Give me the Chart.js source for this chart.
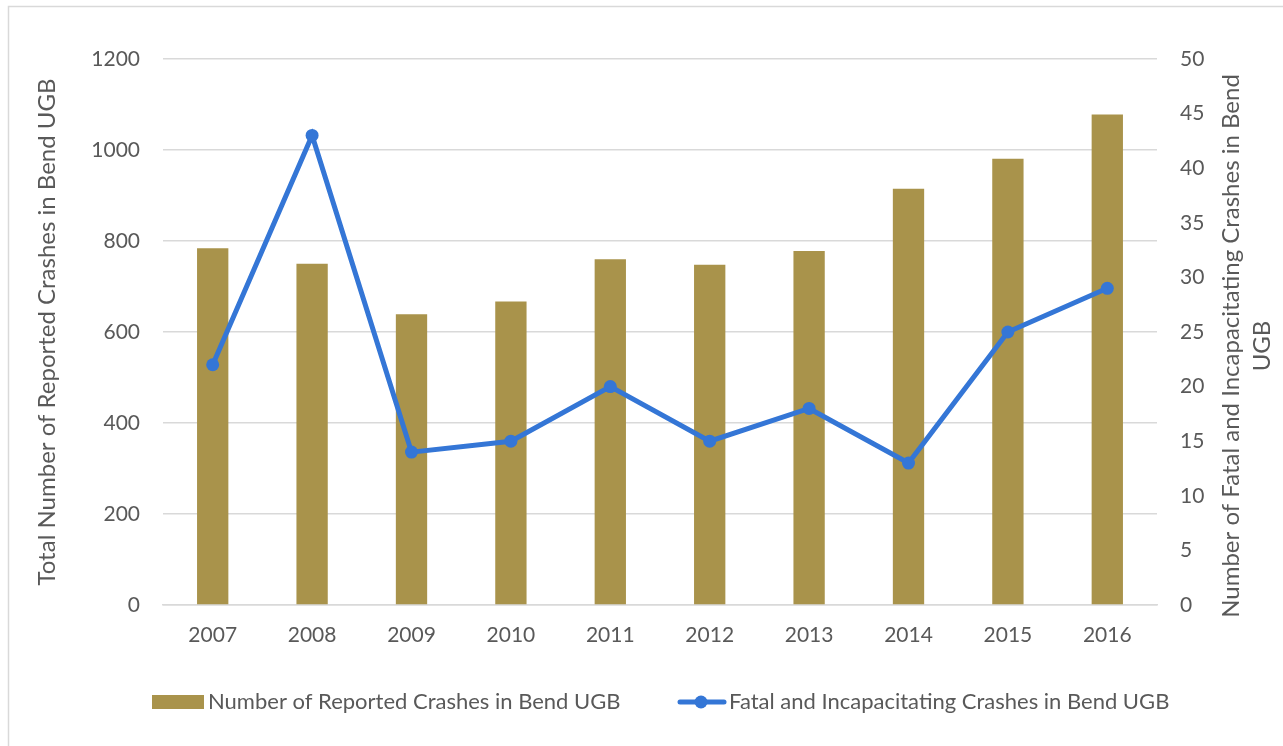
<!DOCTYPE html>
<html>
<head>
<meta charset="utf-8">
<script src="https://cdn.jsdelivr.net/npm/chart.js@4.4.1/dist/chart.umd.min.js"></script>
<style>
  html, body { margin: 0; padding: 0; background: #fff; }
  #wrap { width: 1283px; height: 746px; position: relative; }
</style>
</head>
<body>
<div id="wrap"><canvas id="crashChart" width="1283" height="746"></canvas></div>
<script>
const years = ['2007', '2008', '2009', '2010', '2011', '2012', '2013', '2014', '2015', '2016'];
const reportedCrashes = [784, 750, 639, 667, 760, 748, 778, 915, 981, 1078];
const fatalCrashes = [22, 43, 14, 15, 20, 15, 18, 13, 25, 29];
const leftTicks = [0, 200, 400, 600, 800, 1000, 1200];
const rightTicks = [0, 5, 10, 15, 20, 25, 30, 35, 40, 45, 50];

const barLabel = 'Number of Reported Crashes in Bend UGB';
const lineLabel = 'Fatal and Incapacitating Crashes in Bend UGB';
const leftTitle = 'Total Number of Reported Crashes in Bend UGB';
const rightTitle = ['Number of Fatal and Incapacitating Crashes in Bend', 'UGB'];

const gold = '#A9934B';
const blue = '#3476D6';
const textGray = '#595959';
const gridGray = '#D9D9D9';
const FONT = 'Lato, "Open Sans", sans-serif';

// border, right axis title and the legend
const extras = {
    id: 'extras',
    beforeDraw(chart) {
        const c = chart.ctx;
        c.save();
        c.strokeStyle = gridGray;
        c.lineWidth = 1.5;
        c.strokeRect(8.5, 6.5, 1300, 800);
        c.restore();
    },
    afterDraw(chart) {
        const c = chart.ctx;
        const area = chart.chartArea;
        const barDs = chart.data.datasets.find(d => d.type === 'bar');
        const lineDs = chart.data.datasets.find(d => d.type === 'line');
        c.save();
        c.fillStyle = textGray;
        c.font = '24px ' + FONT;
        c.textAlign = 'center';
        c.textBaseline = 'middle';
        const midY = (area.top + area.bottom) / 2 + 14;
        [1231, 1262].forEach((x, i) => {
            c.save();
            c.translate(x, midY);
            c.rotate(-Math.PI / 2);
            c.fillText(rightTitle[i], 0, 0);
            c.restore();
        });

        // legend
        const ly = 702;
        c.font = '22px ' + FONT;
        c.textAlign = 'left';
        c.fillStyle = barDs.backgroundColor;
        c.fillRect(152, ly - 7, 52, 14);
        c.fillStyle = textGray;
        c.fillText(barDs.label, 208, ly);

        c.strokeStyle = lineDs.borderColor;
        c.lineWidth = 5;
        c.lineCap = 'round';
        c.beginPath();
        c.moveTo(680, ly);
        c.lineTo(724, ly);
        c.stroke();
        c.fillStyle = lineDs.borderColor;
        c.beginPath();
        c.arc(701, ly, 6.5, 0, Math.PI * 2);
        c.fill();
        c.fillStyle = textGray;
        c.fillText(lineDs.label, 729, ly);
        c.restore();
    }
};

const ctx = document.getElementById('crashChart').getContext('2d');
new Chart(ctx, {
    data: {
        labels: years,
        datasets: [
            {
                type: 'line',
                label: lineLabel,
                data: fatalCrashes,
                yAxisID: 'y2',
                borderColor: blue,
                backgroundColor: blue,
                borderWidth: 5,
                pointRadius: 6.5,
                pointHoverRadius: 6.5,
                pointBackgroundColor: blue,
                pointBorderWidth: 0,
                tension: 0,
                order: 0
            },
            {
                type: 'bar',
                label: barLabel,
                data: reportedCrashes,
                yAxisID: 'y',
                backgroundColor: gold,
                borderWidth: 0,
                categoryPercentage: 1,
                barPercentage: 0.315,
                order: 1
            }
        ]
    },
    options: {
        responsive: false,
        animation: false,
        devicePixelRatio: 1,
        layout: { padding: { top: 59, left: 0, right: 0, bottom: 0 } },
        plugins: {
            legend: { display: false },
            tooltip: { enabled: false }
        },
        scales: {
            x: {
                grid: { display: false, drawTicks: false },
                border: { color: gridGray, width: 1.5 },
                ticks: {
                    color: textGray,
                    font: { family: FONT, size: 21 },
                    padding: 18,
                    maxRotation: 0
                },
                afterFit(scale) { scale.height = 141; }
            },
            y: {
                position: 'left',
                min: 0,
                max: 1200,
                afterBuildTicks(scale) { scale.ticks = leftTicks.map(v => ({ value: v })); },
                grid: { color: gridGray, lineWidth: 1.5, drawTicks: false },
                border: { display: false },
                ticks: {
                    color: textGray,
                    font: { family: FONT, size: 21 },
                    padding: 23,
                    callback: v => String(v)
                },
                title: {
                    display: true,
                    text: leftTitle,
                    color: textGray,
                    font: { family: FONT, size: 24, weight: 'normal' },
                    padding: { top: 33, bottom: 0 }
                },
                afterFit(scale) { scale.width = 163; }
            },
            y2: {
                position: 'right',
                min: 0,
                max: 50,
                afterBuildTicks(scale) { scale.ticks = rightTicks.map(v => ({ value: v })); },
                grid: { display: false, drawTicks: false },
                border: { display: false },
                ticks: {
                    color: textGray,
                    font: { family: FONT, size: 21 },
                    padding: 23,
                    callback: v => String(v)
                },
                afterFit(scale) { scale.width = 126; }
            }
        }
    },
    plugins: [extras]
});
</script>
</body>
</html>
